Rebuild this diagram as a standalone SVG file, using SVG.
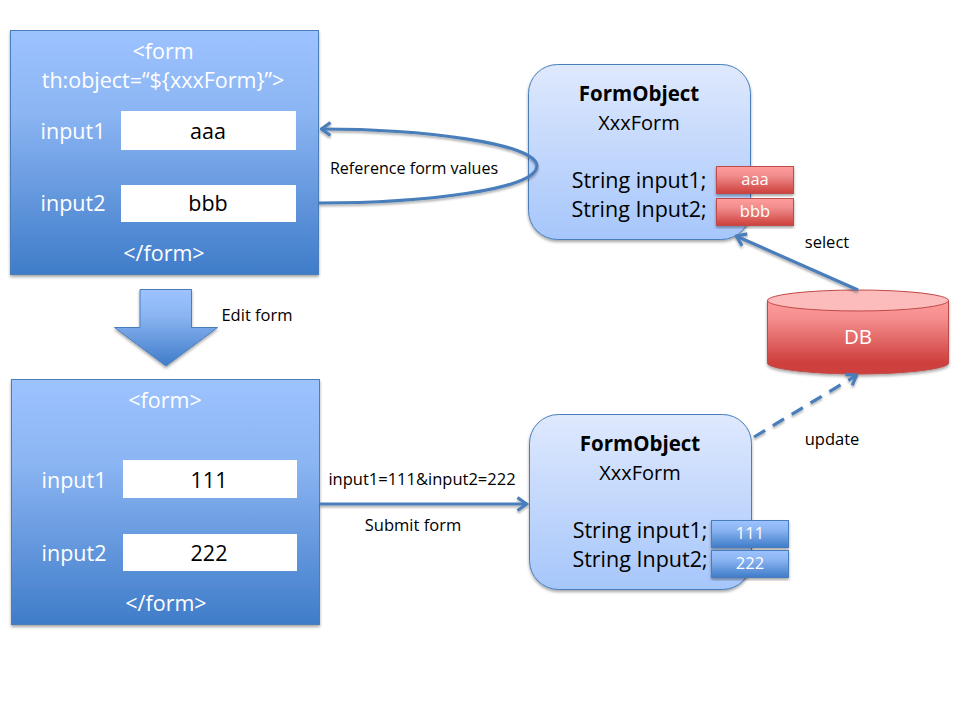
<svg xmlns="http://www.w3.org/2000/svg" width="960" height="720" viewBox="0 0 960 720">
<defs>
<linearGradient id="blue" x1="0" y1="0" x2="0" y2="1"><stop offset="0" stop-color="#9dc3ff"/><stop offset="0.35" stop-color="#8ab4f2"/><stop offset="1" stop-color="#3f7cc9"/></linearGradient>
<linearGradient id="pale" x1="0" y1="0" x2="0" y2="1"><stop offset="0" stop-color="#dfe9fd"/><stop offset="1" stop-color="#a6c6fb"/></linearGradient>
<linearGradient id="red" x1="0" y1="0" x2="0" y2="1"><stop offset="0" stop-color="#ff9c9c"/><stop offset="0.35" stop-color="#f08c8c"/><stop offset="1" stop-color="#cd3f3c"/></linearGradient>
<linearGradient id="dbred" x1="0" y1="0" x2="0" y2="1"><stop offset="0" stop-color="#ff9c9c"/><stop offset="0.25" stop-color="#f58e8e"/><stop offset="0.85" stop-color="#cd3f3c"/><stop offset="1" stop-color="#cd3f3c"/></linearGradient>
<filter id="sh" x="-10%" y="-10%" width="120%" height="120%"><feDropShadow dx="0" dy="2" stdDeviation="1.5" flood-color="#000" flood-opacity="0.35"/></filter>
<filter id="lsh" filterUnits="userSpaceOnUse" x="0" y="0" width="960" height="720"><feDropShadow dx="0" dy="2" stdDeviation="1.2" flood-color="#000" flood-opacity="0.3"/></filter>
<marker id="arr" viewBox="0 0 16 16" refX="14.500" refY="8" markerWidth="16" markerHeight="16" markerUnits="userSpaceOnUse" orient="auto"><path d="M5 1.500 L14 8 L5 14.500" fill="none" stroke="#4a7ebb" stroke-width="3.200"/></marker>
</defs>
<style>
text{font-family:"Open Sans","Noto Sans","Liberation Sans",sans-serif;text-anchor:middle}
.box{fill:url(#blue);stroke:#4a7ebb;stroke-width:1;filter:url(#sh)}
.obj{fill:url(#pale);stroke:#4a7ebb;stroke-width:1;filter:url(#sh)}
.rv{fill:url(#red);stroke:#be4b48;stroke-width:1;filter:url(#sh)}
.bv{fill:url(#blue);stroke:#4a7ebb;stroke-width:1;filter:url(#sh)}
.w{fill:#fff;font-size:21.500px}
.k{fill:#000;font-size:21.500px}
.x{fill:#000;font-size:20px}
.b{fill:#000;font-size:20.500px;font-weight:700}
.l{fill:#000;font-size:16.500px}
.s{fill:#fff;font-size:16.500px}
.f{fill:#fff}
.c{fill:none;stroke:#4a7ebb;stroke-width:3.200;filter:url(#lsh)}
</style>
<g id="form-top">
<rect class="box" x="10.500" y="30.500" width="308" height="244"/>
<text class="w" x="163" y="59">&lt;form</text>
<text class="w" x="163" y="88">th:object=“${xxxForm}”&gt;</text>
<text class="w" x="73" y="139">input1</text>
<rect class="f" x="121" y="111" width="175" height="39"/>
<text class="k" x="208" y="139">aaa</text>
<text class="w" x="73" y="211">input2</text>
<rect class="f" x="121" y="185" width="175" height="37"/>
<text class="k" x="208" y="211">bbb</text>
<text class="w" x="164" y="261">&lt;/form&gt;</text>
</g>
<g id="edit-arrow">
<path d="M140 289.500 H191.500 V327.500 H217.500 L166 366 L114.500 327.500 H140 Z" class="box"/>
<text class="l" x="257" y="321">Edit form</text>
</g>
<g id="form-bottom">
<rect class="box" x="11.500" y="379.500" width="308" height="245"/>
<text class="w" x="165" y="408">&lt;form&gt;</text>
<text class="w" x="74" y="488">input1</text>
<rect class="f" x="123" y="460" width="174" height="38"/>
<text class="k" x="209" y="488">111</text>
<text class="w" x="74" y="561">input2</text>
<rect class="f" x="123" y="534" width="174" height="37"/>
<text class="k" x="209" y="561">222</text>
<text class="w" x="166" y="611">&lt;/form&gt;</text>
</g>
<g id="label-reference"><text class="l" x="414" y="174" style="font-size:16.100px">Reference form values</text></g>
<g id="label-submit"><text class="l" x="422" y="485">input1=111&amp;input2=222</text><text class="l" x="413" y="531">Submit form</text></g>
<g id="object-top">
<rect class="obj" x="528.500" y="64.500" width="222" height="175" rx="29"/>
<text class="b" x="639" y="101">FormObject</text>
<text class="x" x="639" y="130">XxxForm</text>
<text class="k" x="639" y="188">String input1;</text>
<text class="k" x="639" y="217">String Input2;</text>
<rect class="rv" x="716.500" y="166.500" width="77" height="27"/>
<text class="s" x="755" y="185">aaa</text>
<rect class="rv" x="716.500" y="198.500" width="77" height="27"/>
<text class="s" x="755" y="217">bbb</text>
</g>
<g id="object-bottom">
<rect class="obj" x="529.500" y="414.500" width="222" height="175" rx="29"/>
<text class="b" x="640" y="451">FormObject</text>
<text class="x" x="640" y="480">XxxForm</text>
<text class="k" x="640" y="538">String input1;</text>
<text class="k" x="640" y="567">String Input2;</text>
<rect class="bv" x="711.500" y="520.500" width="77" height="27"/>
<text class="s" x="750" y="539">111</text>
<rect class="bv" x="711.500" y="550.500" width="77" height="27"/>
<text class="s" x="750" y="569">222</text>
</g>
<g id="db">
<path d="M767.500 300 V363 C767.500 369 812 374 858 374 C904 374 948.500 369 948.500 363 V300 Z" fill="url(#dbred)" stroke="#be4b48" filter="url(#sh)"/>
<ellipse cx="858" cy="300.500" rx="90.500" ry="10.500" fill="#fdbcbc" stroke="#be4b48"/>
<text class="w" x="858" y="344" style="font-size:20.500px">DB</text>
</g>
<g id="label-select"><text class="l" x="827" y="248">select</text></g>
<g id="label-update"><text class="l" x="832" y="445">update</text></g>
<g id="connectors">
<path class="c" d="M319 203 C420 203 537 190 537 166 C537 143 420 129 321 129" marker-end="url(#arr)"/>
<path class="c" d="M320 504 L527 504" marker-end="url(#arr)"/>
<path class="c" d="M858 290 L736 236" marker-end="url(#arr)"/>
<path class="c" d="M754 437 L857 375" stroke-dasharray="13 9" marker-end="url(#arr)"/>
</g>
</svg>
